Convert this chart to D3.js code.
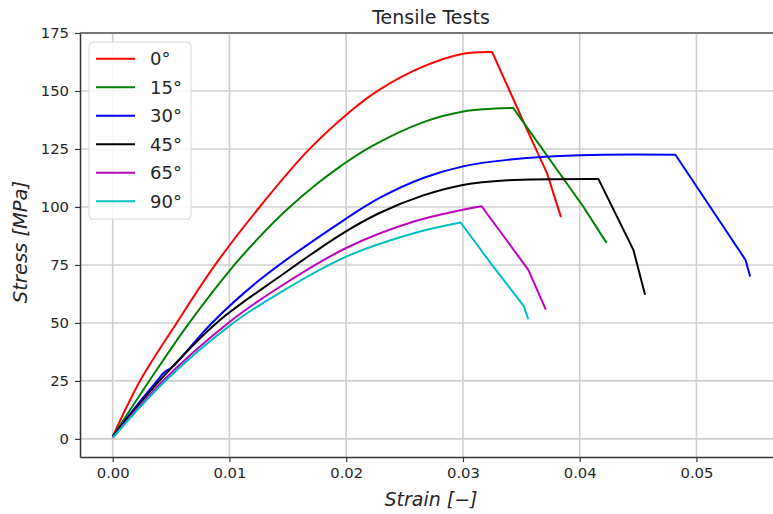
<!DOCTYPE html>
<html>
<head>
<meta charset="utf-8">
<script src="https://cdn.jsdelivr.net/npm/d3@7"></script>
<style>
  html, body { margin: 0; padding: 0; background: #fff; }
  svg { display: block; }
  text { font-family: "DejaVu Sans", sans-serif; fill: #262626; }
</style>
</head>
<body>
<svg id="chart" width="773" height="514"></svg>
<script>
// Tensile test curves: strain [-] vs stress [MPa] for six fibre orientations
const angles = ["0°", "15°", "30°", "45°", "65°", "90°"];

const strain0 = [0, 0.00234, 0.00548, 0.00877, 0.01262, 0.01676, 0.02034, 0.02276, 0.02662, 0.03004, 0.0325, 0.0357, 0.0372, 0.0384];
const stress0 = [1, 25, 50, 75, 100.2, 124.5, 141.2, 150.3, 160.6, 166.1, 166.8, 131, 114.6, 95.6];

const strain15 = [0, 0.0032, 0.00648, 0.0103, 0.0126, 0.0150, 0.0175, 0.0195, 0.02205, 0.02662, 0.03004, 0.0343, 0.0403, 0.0423];
const stress15 = [1, 25.5, 49.5, 74.3, 87.2, 99.2, 110, 117.5, 125.8, 136.6, 141.2, 142.7, 100.2, 84.5];

const strain30 = [0, 0.0020, 0.0038, 0.0044, 0.0051, 0.0085, 0.0126, 0.0200, 0.0229, 0.0266, 0.0300, 0.0338, 0.0400, 0.0482, 0.0542, 0.0546];
const stress30 = [1, 14, 25, 28.6, 31, 50, 68.6, 95, 104, 112.5, 117.5, 120.3, 122.3, 122.5, 77.2, 70.0];

const strain45 = [0, 0.0040, 0.0089, 0.0143, 0.0195, 0.0229, 0.0266, 0.0300, 0.0338, 0.0416, 0.0446, 0.0456];
const stress45 = [1, 25, 50, 70, 88, 97.5, 105, 109.5, 111.5, 112.1, 81.5, 62.1];

const strain65 = [0, 0.0043, 0.0099, 0.0143, 0.0200, 0.0258, 0.0300, 0.0316, 0.0356, 0.0371];
const stress65 = [0.5, 25, 50, 65.5, 82.3, 93.7, 98.8, 100.3, 72.9, 55.7];

const strain90 = [0, 0.0045, 0.0102, 0.0143, 0.0200, 0.0258, 0.0298, 0.0326, 0.0352, 0.0356];
const stress90 = [0.5, 25, 49.5, 63, 78.6, 88.7, 93.3, 74.3, 57.4, 51.6];

const xTicks = [0, 0.01, 0.02, 0.03, 0.04, 0.05];
const yTicks = [0, 25, 50, 75, 100, 125, 150, 175];

const lineColors = ["#ff0000", "#008000", "#0000ff", "#000000", "#bf00bf", "#00bfbf"];

const strains = [strain0, strain15, strain30, strain45, strain65, strain90];
const stresses = [stress0, stress15, stress30, stress45, stress65, stress90];
const series = angles.map((a, i) => {
  const points = strains[i].map((s, j) => [s, stresses[i][j]]);
  const peak = d3.maxIndex(points, p => p[1]);
  return {
    label: a,
    color: lineColors[i],
    loading: points.slice(0, peak + 1),   // smooth hardening branch up to ultimate stress
    failure: points.slice(peak)           // piecewise failure branch
  };
});

const svg = d3.select("#chart");
const plot = { left: 80, top: 33, right: 784, bottom: 457 };

const x = d3.scaleLinear().domain([-0.0028, 0.0575]).range([plot.left, plot.right]);
const y = d3.scaleLinear().domain([-7.8, 175]).range([plot.bottom, plot.top]);

// grid
const grid = svg.append("g");
grid.selectAll("line.gx").data(xTicks).join("line")
  .attr("x1", d => x(d)).attr("x2", d => x(d))
  .attr("y1", plot.top).attr("y2", plot.bottom)
  .attr("stroke", "#cfcfcf").attr("stroke-width", 1.6);
grid.selectAll("line.gy").data(yTicks).join("line")
  .attr("x1", plot.left).attr("x2", plot.right)
  .attr("y1", d => y(d)).attr("y2", d => y(d))
  .attr("stroke", "#cfcfcf").attr("stroke-width", 1.6);

// curves
const smooth = d3.line().x(d => x(d[0])).y(d => y(d[1])).curve(d3.curveCatmullRom.alpha(0.5));
const straight = d3.line().x(d => x(d[0])).y(d => y(d[1]));
svg.append("g").selectAll("path").data(series).join("path")
  .attr("d", d => smooth(d.loading) + straight(d.failure).replace(/^M[^L]*/, ""))
  .attr("fill", "none")
  .attr("stroke", d => d.color)
  .attr("stroke-width", 2)
  .attr("stroke-linejoin", "round");

// axes
const xAxis = d3.axisBottom(x).tickValues(xTicks).tickFormat(d3.format(".2f")).tickSize(5).tickSizeOuter(0).tickPadding(5);
const yAxis = d3.axisLeft(y).tickValues(yTicks).tickFormat(d3.format("d")).tickSize(5).tickSizeOuter(0).tickPadding(6);

const gx = svg.append("g").attr("transform", `translate(0,${plot.bottom})`).call(xAxis);
const gy = svg.append("g").attr("transform", `translate(${plot.left},0)`).call(yAxis);
[gx, gy].forEach(g => {
  g.select(".domain").attr("stroke", "#333").attr("stroke-width", 1.5);
  g.selectAll(".tick line").attr("stroke", "#333").attr("stroke-width", 1.2);
  g.selectAll(".tick text").attr("font-size", 14.8).attr("font-family", "DejaVu Sans").attr("fill", "#262626");
});

// top spine
svg.append("line")
  .attr("x1", plot.left).attr("x2", plot.right)
  .attr("y1", plot.top).attr("y2", plot.top)
  .attr("stroke", "#555").attr("stroke-width", 1.5);

// title and axis labels
svg.append("text").attr("x", 431).attr("y", 24).attr("text-anchor", "middle")
  .attr("font-size", 19).text("Tensile Tests");
svg.append("text").attr("x", 431).attr("y", 506).attr("text-anchor", "middle")
  .attr("font-size", 19).attr("font-style", "italic").text("Strain [−]");
svg.append("text").attr("transform", "translate(27,242) rotate(-90)").attr("text-anchor", "middle")
  .attr("font-size", 19.5).attr("font-style", "italic").text("Stress [MPa]");

// legend
const legend = svg.append("g");
legend.append("rect")
  .attr("x", 89).attr("y", 42).attr("width", 102).attr("height", 177).attr("rx", 4)
  .attr("fill", "#fff").attr("fill-opacity", 0.85)
  .attr("stroke", "#d6d6d6").attr("stroke-width", 1);
const items = legend.selectAll("g.item").data(series).join("g")
  .attr("transform", (d, i) => `translate(0,${58.7 + i * 28.5})`);
items.append("line").attr("x1", 96).attr("x2", 135).attr("y1", 0).attr("y2", 0)
  .attr("stroke", d => d.color).attr("stroke-width", 2);
items.append("text").attr("x", 150).attr("y", 6.5).attr("font-size", 18).text(d => d.label);
</script>
</body>
</html>
